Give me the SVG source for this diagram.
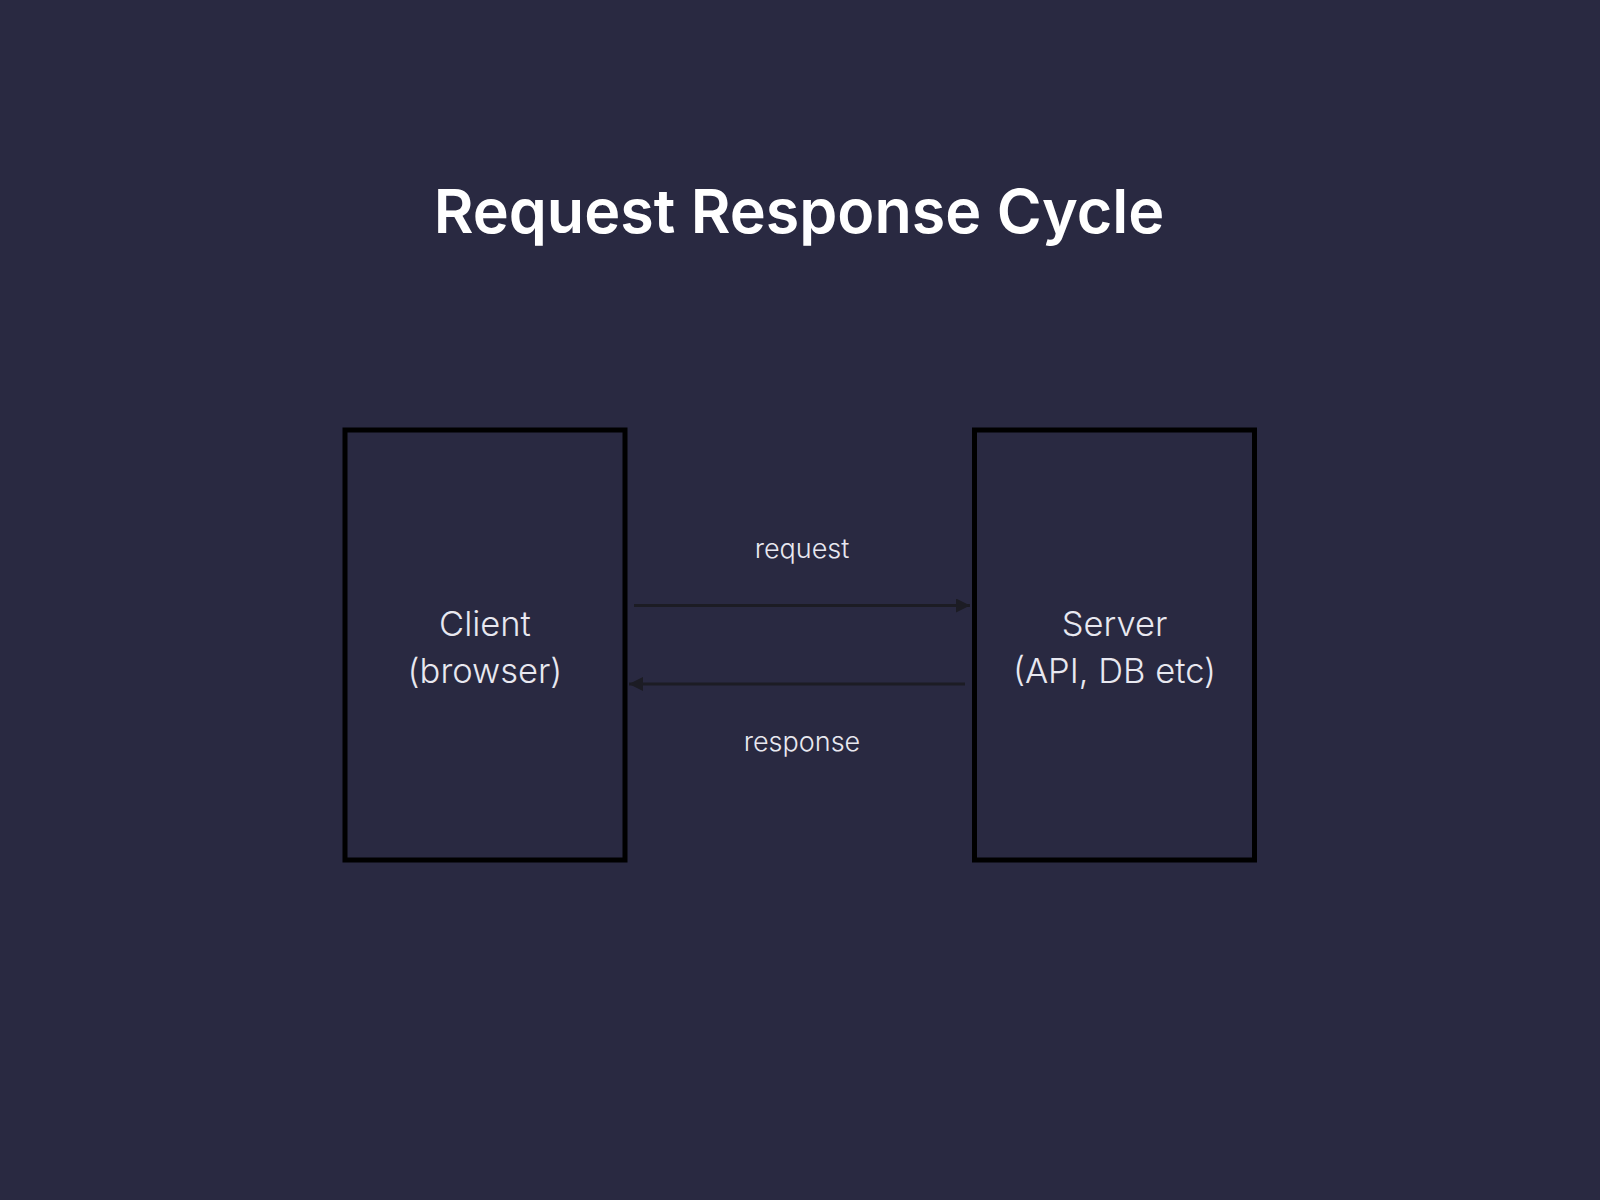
<svg xmlns="http://www.w3.org/2000/svg" width="1600" height="1200" viewBox="0 0 1600 1200">
<defs>
<style>
.title{font-family:Inter,"Liberation Sans",sans-serif;font-weight:600;font-size:61px;fill:#ffffff}
.node{fill:#292941;stroke:#000000;stroke-width:5}
.label{font-family:Inter,"Liberation Sans",sans-serif;font-weight:300;font-size:34.5px;fill:#e8e8f0}
.elabel{font-family:Inter,"Liberation Sans",sans-serif;font-weight:300;font-size:27px;fill:#e8e8f0}
.edge{stroke:#1c1c24;stroke-width:3;fill:none}
</style>
<marker id="ah" viewBox="0 0 10 10" refX="10" refY="5" markerWidth="15" markerHeight="14" markerUnits="userSpaceOnUse" orient="auto">
<path d="M0,0 L10,5 L0,10 Z" fill="#1c1c24"/>
</marker>
</defs>
<rect width="1600" height="1200" fill="#292941"/>
<text class="title" x="799" y="233" text-anchor="middle">Request Response Cycle</text>
<g id="client">
<rect class="node" x="345" y="430" width="280" height="430"/>
<text class="label" x="485" y="636" text-anchor="middle">Client</text>
<text class="label" x="485" y="683" text-anchor="middle">(browser)</text>
</g>
<g id="server">
<rect class="node" x="974.5" y="430" width="280" height="430"/>
<text class="label" x="1114.5" y="636" text-anchor="middle">Server</text>
<text class="label" x="1114.5" y="683" text-anchor="middle">(API, DB etc)</text>
</g>
<g id="connectors">
<line class="edge" x1="634" y1="605.5" x2="970" y2="605.5" marker-end="url(#ah)"/>
<line class="edge" x1="965" y1="684" x2="629" y2="684" marker-end="url(#ah)"/>
<text class="elabel" x="802" y="558" text-anchor="middle">request</text>
<text class="elabel" x="802" y="751" text-anchor="middle">response</text>
</g>
</svg>
